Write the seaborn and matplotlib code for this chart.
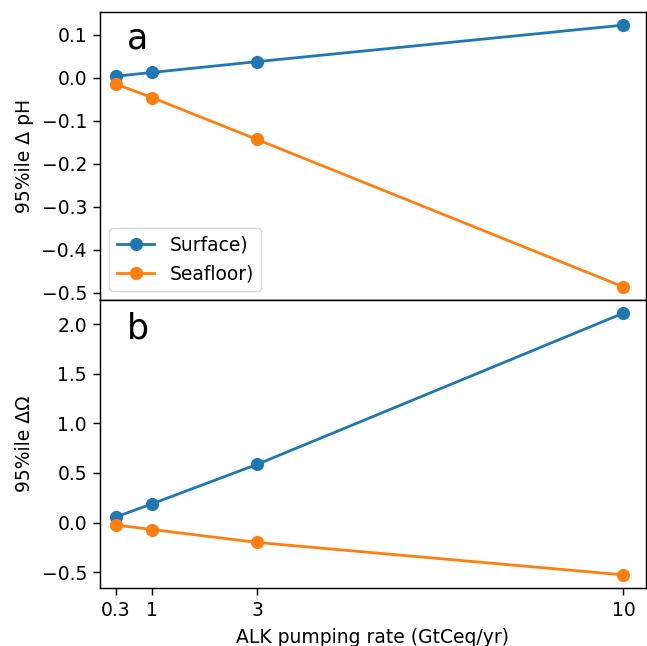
import matplotlib
matplotlib.use("Agg")
import matplotlib.pyplot as plt
import seaborn as sns
import pandas as pd

rates = [0.3, 1, 3, 10]
tick_labels = ["0.3", "1", "3", "10"]
series = ["Surface)", "Seafloor)"]
ph_surface = [0.004, 0.013, 0.038, 0.123]
ph_seafloor = [-0.014, -0.046, -0.143, -0.486]
om_surface = [0.056, 0.19, 0.586, 2.11]
om_seafloor = [-0.024, -0.07, -0.20, -0.527]

colors = ["#1f77b4", "#ff7f0e"]

plt.rcParams.update({
    "font.size": 13.5,
    "axes.linewidth": 1.05,
    "xtick.major.width": 1.05,
    "ytick.major.width": 1.05,
    "xtick.major.size": 4.7,
    "ytick.major.size": 4.7,
    "xtick.major.pad": 4.7,
    "ytick.major.pad": 4.7,
    "axes.labelpad": 5.4,
})

def long_df(a, b):
    return pd.DataFrame({
        "rate": rates * 2,
        "value": a + b,
        "series": [series[0]] * len(rates) + [series[1]] * len(rates),
    })

df_ph = long_df(ph_surface, ph_seafloor)
df_om = long_df(om_surface, om_seafloor)

fig = plt.figure(figsize=(6.47, 6.46), dpi=100)
ax1 = fig.add_axes([0.1546, 0.5356, 0.8438, 0.4458])
ax2 = fig.add_axes([0.1546, 0.0898, 0.8438, 0.4458], sharex=ax1)

for ax, df in ((ax1, df_ph), (ax2, df_om)):
    sns.lineplot(data=df, x="rate", y="value", hue="series", palette=colors,
                 marker="o", markersize=9.5, markeredgewidth=0, linewidth=2.0,
                 ax=ax, legend=(ax is ax1))

ax1.set_xlim(0, 10.43)
ax1.set_yticks([-0.5, -0.4, -0.3, -0.2, -0.1, 0.0, 0.1])
ax2.set_yticks([-0.5, 0.0, 0.5, 1.0, 1.5, 2.0])
ax2.set_xticks(rates)
ax2.set_xticklabels(tick_labels)
ax1.tick_params(axis="x", bottom=False, labelbottom=False)

ax1.set_xlabel("")
ax1.set_ylabel("95%ile Δ pH")
ax2.set_ylabel("95%ile ΔΩ")
ax2.set_xlabel("ALK pumping rate (GtCeq/yr)")

ax1.text(0.05, 0.873, "a", fontsize=25, transform=ax1.transAxes, va="baseline")
ax2.text(0.05, 0.868, "b", fontsize=25, transform=ax2.transAxes, va="baseline")

leg = ax1.legend(loc="lower left", title=None)

fig.savefig("out.png", dpi=100)
